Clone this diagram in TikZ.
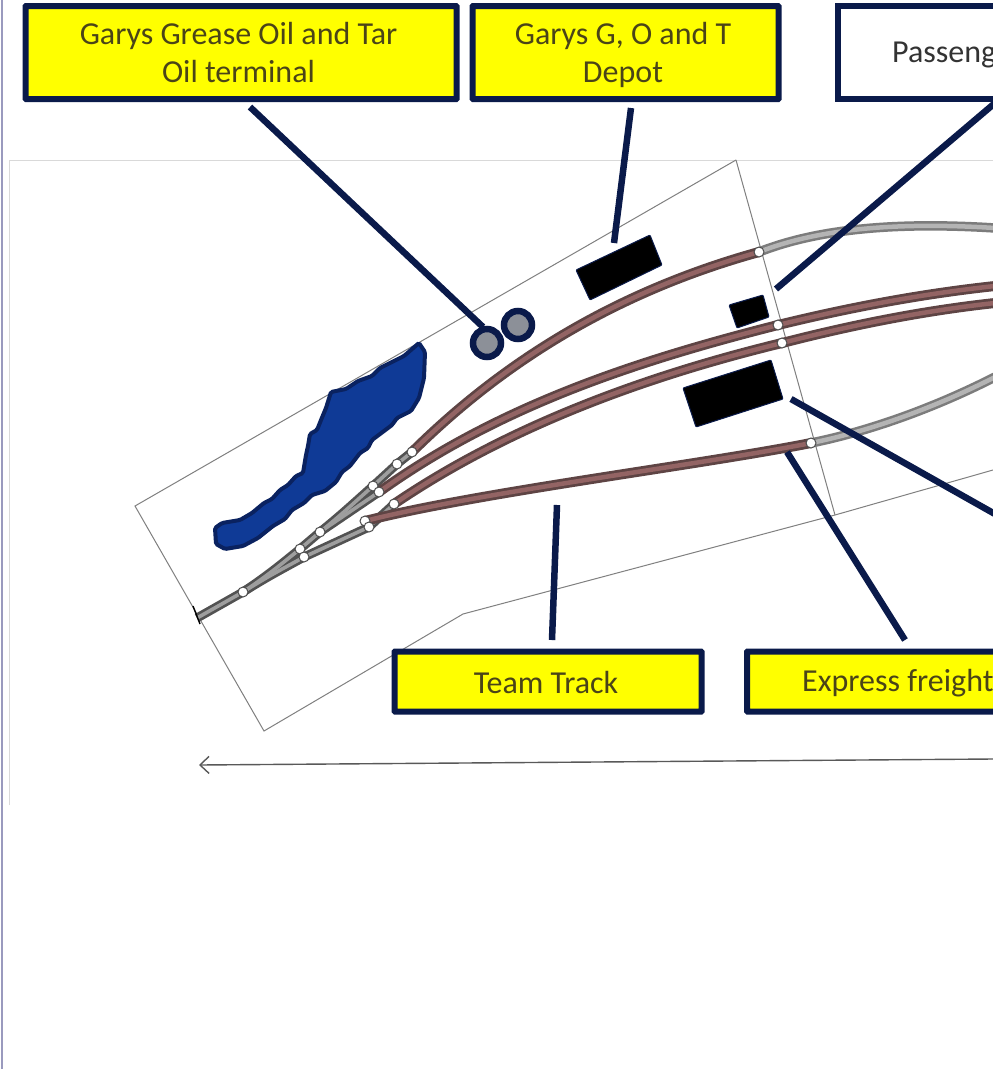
\documentclass[tikz,border=0pt]{standalone}
\usepackage{fontspec}
\setmainfont{Carlito}
\usetikzlibrary{arrows.meta}
\definecolor{navy}{HTML}{0A1A4A}
\definecolor{pond}{HTML}{0F3A96}
\definecolor{pondedge}{HTML}{0A2260}
\definecolor{label}{HTML}{FFFF00}
\definecolor{brownedge}{HTML}{5E4444}
\definecolor{brownfill}{HTML}{936464}
\definecolor{grayedge}{HTML}{7C7C7C}
\definecolor{grayfill}{HTML}{B4B4B4}
\definecolor{tankfill}{HTML}{8C9098}
\definecolor{olivetext}{HTML}{4A4418}
\definecolor{frameblue}{HTML}{9A9ABE}
\tikzset{
  callout/.style={draw=navy,fill=label,line width=6pt,inner sep=0pt,rounded corners=0.5pt},
  plain/.style={draw=navy,fill=white,line width=5.5pt,inner sep=0pt},
  tag/.style={font=\fontsize{32}{38}\selectfont,text=olivetext,align=center,inner sep=0pt},
  leader/.style={draw=navy,line width=6.5pt},
  outline/.style={draw=black!50,line width=1pt},
  faint/.style={draw=black!15,line width=1pt},
  bldg/.style={fill=black,draw=navy,line width=1pt,rounded corners=1pt},
  tank/.style={circle,draw=navy,fill=tankfill,line width=6.5pt,minimum size=28pt,inner sep=0pt},
  sw/.style={circle,draw=black!70,fill=white,line width=1pt,minimum size=10pt,inner sep=0pt},
  brownout/.style={draw=brownedge,line width=10pt},
  brownin/.style={draw=brownfill,line width=4.5pt},
  grayout/.style={draw=grayedge,line width=9.5pt},
  grayin/.style={draw=grayfill,line width=4.5pt},
  leadout/.style={draw=black!68,line width=9pt},
  leadin/.style={draw=black!38,line width=3.6pt}
}
\begin{document}
\begin{tikzpicture}[x=1pt,y=-1pt]
\useasboundingbox (0,0) rectangle (993,1069);
\clip (0,0) rectangle (993,1069);
\fill[white] (0,0) rectangle (993,1069);
% outer frames
\draw[draw=frameblue,line width=1.5pt] (2,0) -- (2,1069);
\draw[faint] (9,805) -- (9,160) -- (993,160);
% plan outline
\draw[outline] (736,160) -- (135,506) -- (264,731) -- (463,614) -- (835,515) -- (993,470);
\draw[outline] (736,160) -- (835,515);
% direction arrow
\coordinate (arrR) at (993,759);
\coordinate (arrL) at (199,765);
\draw[draw=black!65,line width=1.4pt,-{Straight Barb[length=9pt,width=17pt]}] (arrR) -- (arrL);
% pond
\draw[fill=pond,draw=pondedge,line width=4pt,rounded corners=1.5pt]
 (419,343) -- (425,352) -- (424,378) -- (419,398) -- (411,411) -- (397,418) -- (392,425) -- (384,431) -- (372,440)
 -- (368,448) -- (360,453) -- (350,466) -- (342,472) -- (336,482) -- (325,491) -- (312,495) -- (304,503) -- (292,510) -- (285,519) -- (273,526)
 -- (258,538) -- (243,546) -- (225,549) -- (216,544) -- (215,528) -- (222,523) -- (240,520) -- (252,513)
 -- (264,503) -- (272,499) -- (280,490) -- (288,485) -- (296,476) -- (303,473) -- (306,455) -- (308,446) -- (310,434) -- (317,430) -- (321,420)
 -- (326,408) -- (331,392) -- (346,389) -- (358,381) -- (372,376) -- (380,368) -- (392,362) -- (404,356) -- cycle;
% track switch points
\foreach \n/\x/\y in {s0/243/592,s1/300/549,s2/304/557,s3/320/532,s4/373/486,s5/379/492,s6/397/464,s7/412/452,s8/394/504,s9/365/521,s10/369/527,
  a/759/252,b/778/325,c/782/343,d/811/443}{\coordinate (\n) at (\x,\y);}
\coordinate (t0) at (197,618);
\coordinate (ae) at (995,228);
\coordinate (be) at (995,286);
\coordinate (ce) at (995,303);
\coordinate (de) at (995,377);
% gray parts
\foreach \st in {grayout,grayin}{
 \draw[\st] (a) .. controls (820,228) and (900,222) .. (ae);
 \draw[\st] (d) .. controls (875,430) and (940,405) .. (de);
}
% lead tracks
\foreach \st in {leadout,leadin}{
 \draw[\st] (t0) -- (s0) .. controls (270,574) and (285,561) .. (s1) -- (s3) .. controls (340,516) and (355,502) .. (s4) -- (s6) -- (s7);
 \draw[\st] (s0) .. controls (270,575) and (288,566) .. (s2) -- (s10) -- (s8);
 \draw[\st] (s3) -- (s5);
}
\draw[line width=1.4pt,black] (193,606) -- (200,624);
% brown tracks
\foreach \st in {brownout,brownin}{
 \draw[\st] (s7) .. controls (520,345) and (640,285) .. (a);
 \draw[\st] (s5) .. controls (500,405) and (640,360) .. (b) .. controls (860,305) and (930,293) .. (be);
 \draw[\st] (s8) .. controls (510,425) and (650,375) .. (c) .. controls (860,323) and (930,310) .. (ce);
 \draw[\st] (s9) .. controls (480,492) and (700,465) .. (d);
}
\foreach \n in {s0,s1,s2,s3,s4,s5,s6,s7,s8,s9,s10,a,b,c,d}{\node[sw] (n\n) at (\n) {};}
% buildings
\fill[bldg] (576,270) -- (650,235) -- (662,265) -- (590,300) -- cycle;
\fill[bldg] (729,305) -- (763,295) -- (769,317) -- (737,328) -- cycle;
\fill[bldg] (683,388) -- (771,360) -- (783,399) -- (696,427) -- cycle;
% tanks
\node[tank] (tank1) at (487,343) {};
\node[tank] (tank2) at (518,325) {};
% labels
\node[callout,minimum width=431pt,minimum height=93pt] (oil) at (241,52.5) {};
\node[tag] (oilt) at (238.5,52.5) {Garys Grease Oil and Tar\\Oil terminal};
\node[callout,minimum width=306pt,minimum height=93pt] (depot) at (625.5,52.5) {};
\node[tag] (depott) at (623,55) {Garys G, O and T\\Depot};
\node[plain,minimum width=300pt,minimum height=93pt] (pass) at (988,52.5) {};
\node[tag,anchor=west,text=black!80] (passt) at (892,55) {Passeng};
\node[callout,minimum width=307pt,minimum height=60pt] (team) at (548,681.5) {};
\node[tag] (teamt) at (546,682) {Team Track};
\node[callout,minimum width=300pt,minimum height=60pt] (expr) at (897,681.5) {};
\node[tag,anchor=west] (exprt) at (802,683) {Express freight};
% leaders
\coordinate (l1a) at (250,107); \coordinate (l1b) at (483,327);
\coordinate (l2a) at (631,108); \coordinate (l2b) at (614,243);
\coordinate (l3a) at (995,103); \coordinate (l3b) at (776,289);
\coordinate (l4a) at (995,514); \coordinate (l4b) at (791,399);
\coordinate (l5a) at (552,640); \coordinate (l5b) at (557,505);
\coordinate (l6a) at (905,640); \coordinate (l6b) at (787,452);
\foreach \a/\b in {l1a/l1b,l2a/l2b,l3a/l3b,l4a/l4b,l5a/l5b,l6a/l6b}{\draw[leader] (\a) -- (\b);}
\end{tikzpicture}
\end{document}
